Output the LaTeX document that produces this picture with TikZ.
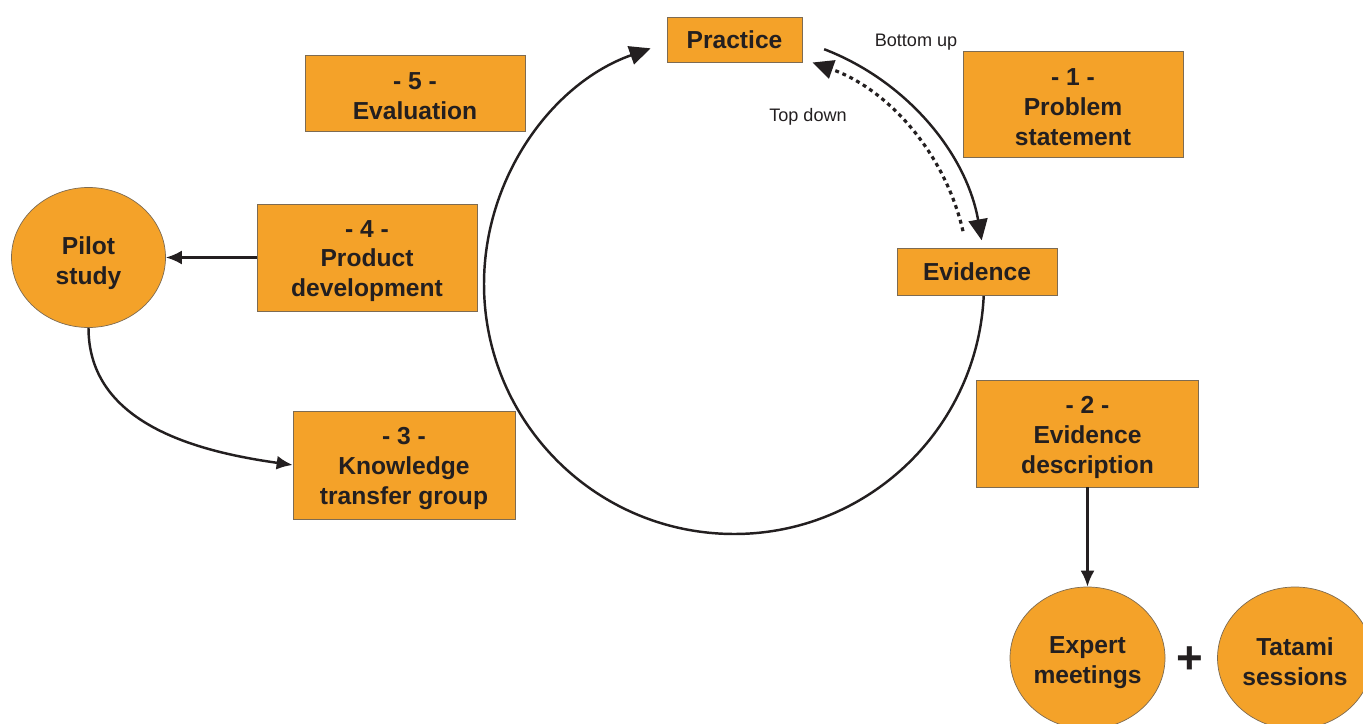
\documentclass[tikz,border=0pt]{standalone}
\usepackage{fontspec}
\setmainfont{Liberation Sans}
\usetikzlibrary{arrows.meta}
\usetikzlibrary{shapes.geometric}

\definecolor{laranja}{HTML}{F4A229}
\definecolor{borda}{HTML}{7D6B52}
\definecolor{tinta}{HTML}{231F20}

% apoio invisivel na primeira linha
\newcommand{\apoio}[1]{\rule{0pt}{#1}}

\begin{document}
\begin{tikzpicture}[
      font=\fontsize{14}{17}\selectfont\bfseries,
      caixa/.style={rectangle, draw=borda, fill=laranja, text=tinta, align=center, inner sep=0pt},
      bolha/.style={ellipse, draw=borda, fill=laranja, text=tinta, align=center,
        minimum width=3.1cm, minimum height=2.84cm, inner sep=0pt},
      rotulo/.style={font=\fontsize{10.3}{12}\selectfont, text=tinta},
      fluxo/.style={line width=1.4pt, draw=tinta, -{Triangle[length=4.2mm,width=3.8mm]}},
      seta/.style={line width=1.4pt, draw=tinta, -{Latex[length=3.2mm,width=2.8mm]}}
    ]
    \useasboundingbox (0,0) rectangle (27.26,14.46);
    \clip (0,0) rectangle (27.26,14.46);

    % Ciclo
    \coordinate (centro) at (14.68,8.78);
    \draw[fluxo] ([shift={(-2.5:5)}]centro) arc[start angle=-2.5, end angle=-250.5, radius=5];
    \draw[fluxo] ([shift={(69:5.03)}]centro) arc[start angle=69, end angle=10, radius=5.03];
    \draw[fluxo, line width=1.8pt, dash pattern=on 2.2pt off 2.2pt] ([shift={(13:4.7)}]centro) arc[start angle=13, end angle=70.5, radius=4.7];

    \node[caixa, minimum width=2.7cm, minimum height=0.9cm] (pratica) at (14.69,13.67) {Practice};
    \node[caixa, minimum width=3.2cm, minimum height=0.94cm] (evidencia) at (19.54,9.03) {Evidence};
    \node[rotulo] (baixo) at (18.32,13.62) {Bottom up};
    \node[rotulo] (cima) at (16.16,12.12) {Top down};

    % Etapas
    \node[caixa, minimum width=4.4cm, minimum height=2.12cm] (problema) at (21.46,12.38) {\apoio{13.6pt}- 1 -\\Problem\\statement};
    \node[caixa, minimum width=4.44cm, minimum height=2.14cm] (descricao) at (21.75,5.79) {\apoio{14pt}- 2 -\\Evidence\\description};
    \node[caixa, minimum width=4.44cm, minimum height=2.16cm] (grupo) at (8.08,5.16) {\apoio{14pt}- 3 -\\Knowledge\\transfer group};
    \node[caixa, minimum width=4.4cm, minimum height=2.14cm] (produto) at (7.34,9.31) {\apoio{13.6pt}- 4 -\\Product\\development};
    \node[caixa, minimum width=4.4cm, minimum height=1.52cm] (avaliacao) at (8.30,12.60) {\apoio{13.6pt}- 5 -\\Evaluation};

    \node[bolha, minimum width=3.08cm, minimum height=2.8cm] (piloto) at (1.77,9.31) {\apoio{16.5pt}Pilot\\study};
    \node[bolha] (especialistas) at (21.75,1.30) {\apoio{14.5pt}Expert\\meetings};
    \node[bolha] (tatami) at (25.90,1.30) {\apoio{14.5pt}Tatami\\sessions};
    \node[font=\fontsize{26}{26}\selectfont\bfseries, text=tinta] (mais) at (23.80,1.26) {+};

    \draw[seta] (produto.west) -- (piloto.east);
    \draw[seta] (piloto.south) to[out=-90, in=172] (grupo.west);
    \draw[seta] (descricao.south) -- (especialistas.north);
  \end{tikzpicture}
\end{document}
